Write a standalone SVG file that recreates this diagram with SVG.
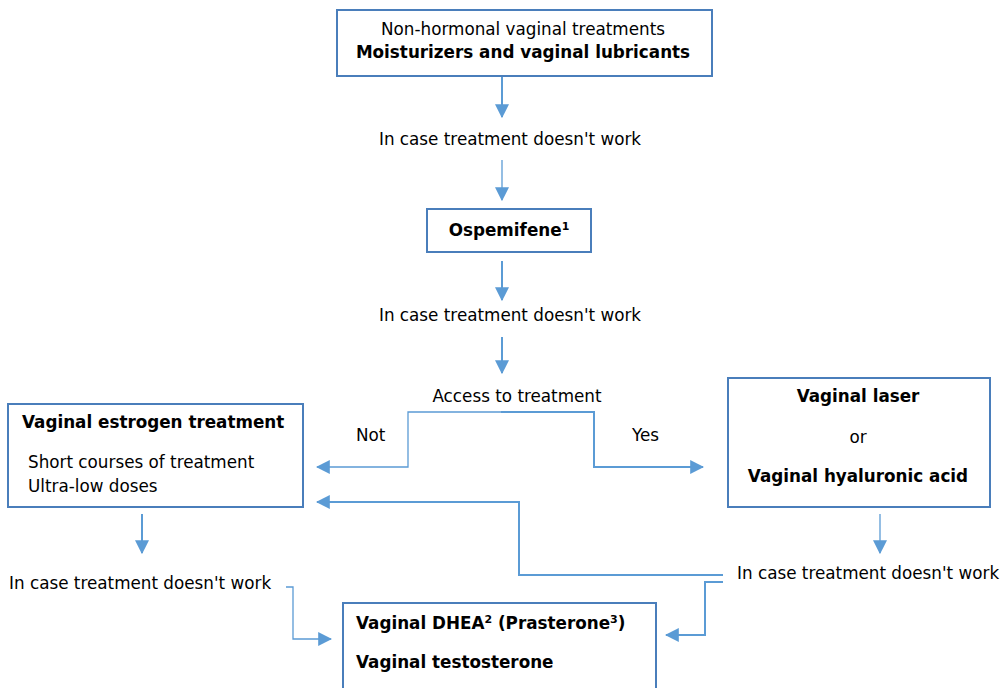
<svg xmlns="http://www.w3.org/2000/svg" width="1002" height="688" viewBox="0 0 1002 688">
<style>
.box{fill:#fff;stroke:#4a7ebb;stroke-width:2}
.t{font-family:"DejaVu Sans",Verdana,sans-serif;font-size:16.8px;fill:#000}
.b{font-weight:bold}
.m{text-anchor:middle}
.c{fill:none;stroke:#5b9bd5;stroke-width:2}
.c1{fill:none;stroke:#5b9bd5;stroke-width:1.3}
</style>
<defs>
<marker id="ah" markerUnits="userSpaceOnUse" markerWidth="14" markerHeight="14" viewBox="0 0 12 12" refX="11" refY="6" orient="auto">
<path d="M0,0 L12,6 L0,12 z" fill="#5b9bd5"/>
</marker>
</defs>
<rect width="1002" height="688" fill="#fff"/>
<g id="connectors">
<path class="c" d="M502,77 V117" marker-end="url(#ah)"/>
<path class="c1" d="M502,160 V200" marker-end="url(#ah)"/>
<path class="c" d="M502,261 V300" marker-end="url(#ah)"/>
<path class="c" d="M502,337 V373" marker-end="url(#ah)"/>
<path class="c1" d="M501,412 H408 V467 H317" marker-end="url(#ah)"/>
<path class="c" d="M501,412 H594 V467 H703" marker-end="url(#ah)"/>
<path class="c" d="M142,514 V553" marker-end="url(#ah)"/>
<path class="c1" d="M880,514 V553" marker-end="url(#ah)"/>
<path class="c1" d="M286,587 H293 V639 H331" marker-end="url(#ah)"/>
<path class="c" d="M723,575 H519 V502 H317" marker-end="url(#ah)"/>
<path class="c" d="M723,582 H705 V635 H666" marker-end="url(#ah)"/>
</g>
<g id="n1">
<rect class="box" x="337" y="10" width="375" height="66"/>
<text class="t m" x="523" y="35">Non-hormonal vaginal treatments</text>
<text class="t b m" x="523" y="58">Moisturizers and vaginal lubricants</text>
</g>
<g id="l1"><text class="t m" x="510" y="145">In case treatment doesn't work</text></g>
<g id="n2">
<rect class="box" x="427" y="209" width="164" height="43"/>
<text class="t b m" x="509" y="236">Ospemifene<tspan font-size="11" dy="-6">1</tspan></text>
</g>
<g id="l2"><text class="t m" x="510" y="321">In case treatment doesn't work</text></g>
<g id="l3"><text class="t m" x="517" y="402">Access to treatment</text></g>
<g id="lnot"><text class="t" x="356" y="441">Not</text></g>
<g id="lyes"><text class="t" x="632" y="441">Yes</text></g>
<g id="n3">
<rect class="box" x="8" y="404" width="295" height="103"/>
<text class="t b" x="22" y="428">Vaginal estrogen treatment</text>
<text class="t" x="28" y="468">Short courses of treatment</text>
<text class="t" x="28" y="492">Ultra-low doses</text>
</g>
<g id="n4">
<rect class="box" x="728" y="378" width="262" height="129"/>
<text class="t b m" x="858" y="402">Vaginal laser</text>
<text class="t m" x="858" y="443">or</text>
<text class="t b m" x="858" y="482">Vaginal hyaluronic acid</text>
</g>
<g id="l4"><text class="t" x="9" y="589">In case treatment doesn't work</text></g>
<g id="l5"><text class="t" x="737" y="579">In case treatment doesn't work</text></g>
<g id="n5">
<rect class="box" x="343" y="603" width="313" height="100"/>
<text class="t b" x="356" y="629">Vaginal DHEA<tspan font-size="11" dy="-6">2</tspan><tspan dy="6"> (Prasterone</tspan><tspan font-size="11" dy="-6">3</tspan><tspan dy="6">)</tspan></text>
<text class="t b" x="356" y="668">Vaginal testosterone</text>
</g>
</svg>
